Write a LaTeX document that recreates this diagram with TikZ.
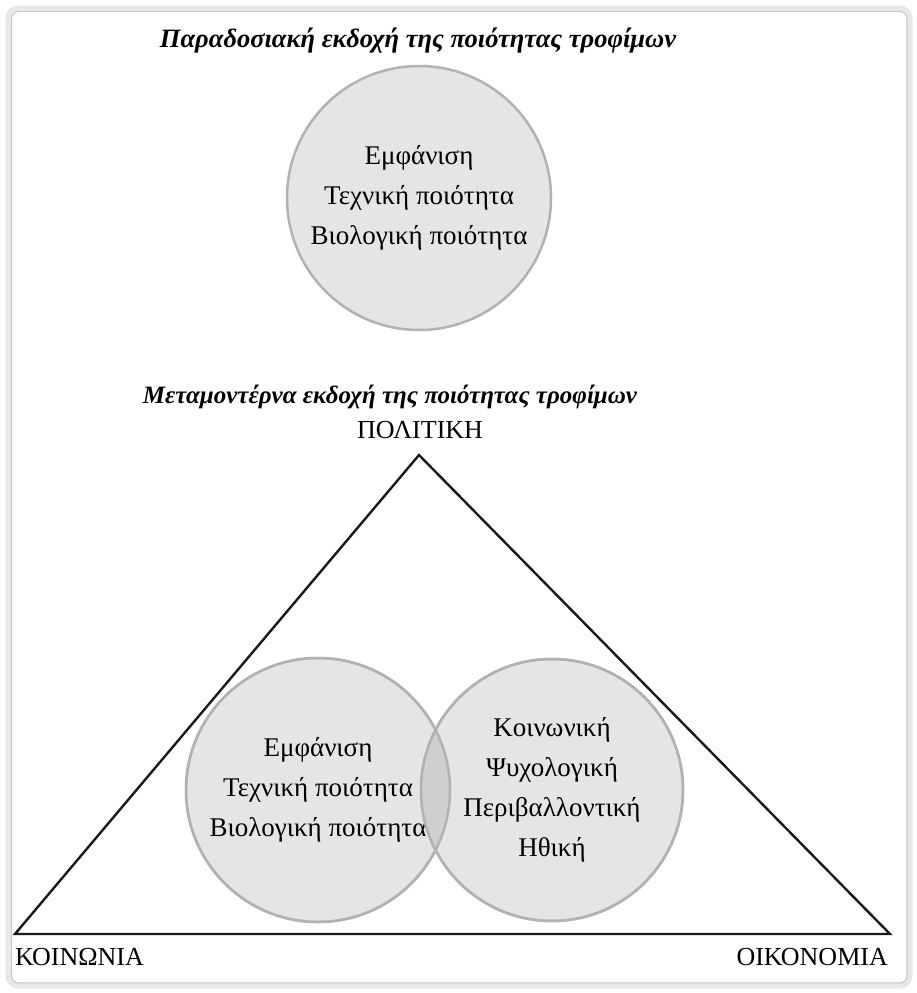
\documentclass[tikz,border=0pt]{standalone}
\usepackage{fontspec}
\setmainfont{Liberation Serif}
\usetikzlibrary{positioning}
\tikzset{
  % frame round the whole figure: light band + thin shadow line
  frameout/.style={draw=black!9, line width=5pt, rounded corners=10pt},
  framein/.style={draw=black!22, line width=1.2pt, rounded corners=7pt},
  % quality circle (grey disc with centred lines)
  qcircle/.style={circle, draw=black!30, line width=2.5pt, fill=black!10,
                  minimum size=264pt, inner sep=0pt, align=center,
                  font=\fontsize{27}{40}\selectfont},
  ring/.style={draw=black!30, line width=2.5pt},
  lens/.style={fill=black!19},
  % headings and corner words
  title/.style={font=\fontsize{25}{28}\selectfont\bfseries\itshape, inner sep=0pt},
  corner/.style={font=\fontsize{26}{28}\selectfont, inner sep=0pt},
  tri/.style={draw=black!90, line width=2.4pt, line join=miter},
}

\begin{document}
\begin{tikzpicture}[x=1pt, y=-1pt]
\useasboundingbox (0,0) rectangle (917,993);

% =================== FRAME ===================
\draw[frameout] (8,8) rectangle (910,986);
\draw[framein] (11.5,11.5) rectangle (907,983);

% =================== TRADITIONAL VERSION ===================
\node[title, font=\fontsize{26.5}{28}\selectfont\bfseries\itshape, anchor=base] (title1) at (418,47) {Παραδοσιακή εκδοχή της ποιότητας τροφίμων};
\node[qcircle] (trad) at (419,198) {Εμφάνιση\\ Τεχνική ποιότητα\\ Βιολογική ποιότητα};

% =================== POSTMODERN VERSION ===================
\node[title, anchor=base] (title2) at (390,403) {Μεταμοντέρνα εκδοχή της ποιότητας τροφίμων};

\coordinate (pol) at (419,455);
\coordinate (koi) at (15,934);
\coordinate (oik) at (890,934);

\node[qcircle] (lc) at (318,790) {Εμφάνιση\\ Τεχνική ποιότητα\\ Βιολογική ποιότητα};
\node[qcircle, minimum size=262pt] (rc) at (552,790) {Κοινωνική\\ Ψυχολογική\\ Περιβαλλοντική\\ Ηθική};

% overlap of the two circles
\begin{scope}
  \clip (lc.center) circle[radius=132pt];
  \fill[lens] (rc.center) circle[radius=131pt];
\end{scope}
\draw[ring] (lc.center) circle[radius=132pt];
\draw[ring] (rc.center) circle[radius=131pt];

\draw[tri] (pol) -- (koi) -- (oik) -- cycle;

\node[corner, anchor=base] (politiki) at (420,438) {ΠΟΛΙΤΙΚΗ};
\node[corner, anchor=base west] (koinonia) at (15,965) {ΚΟΙΝΩΝΙΑ};
\node[corner, anchor=base east] (oikonomia) at (888,965) {ΟΙΚΟΝΟΜΙΑ};

\end{tikzpicture}
\end{document}
